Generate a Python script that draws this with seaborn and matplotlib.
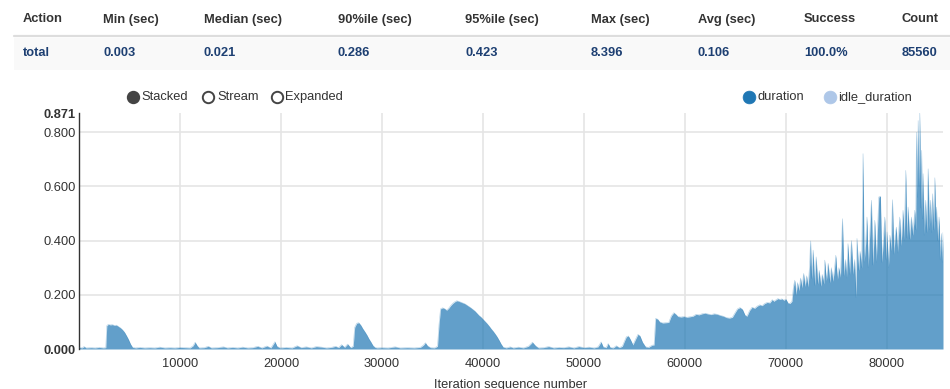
import matplotlib
matplotlib.use("Agg")
import matplotlib.pyplot as plt
from matplotlib.lines import Line2D
from matplotlib.patches import Rectangle
import seaborn as sns
import pandas as pd

# ---- summary table ----
columns = ["Action", "Min (sec)", "Median (sec)", "90%ile (sec)", "95%ile (sec)",
           "Max (sec)", "Avg (sec)", "Success", "Count"]
row_values = ["total", "0.003", "0.021", "0.286", "0.423", "8.396", "0.106",
              "100.0%", "85560"]

# ---- chart legend ----
series_names = ["duration", "idle_duration"]
series_colors = ["#1f77b4", "#aec7e8"]
view_modes = ["Stacked", "Stream", "Expanded"]

# ---- duration per iteration (seconds) ----
iterations = [
    1, 300, 500, 700, 1200, 1600, 2000, 2400, 2650,
    2750, 2900, 3100, 3300, 3500, 3700, 3900, 4100, 4300, 4500, 4700, 4900, 5100, 5300,
    5600, 6000, 6500, 7000, 7500, 8000, 8500, 9000, 9500, 10000, 10500, 11000, 11300,
    11500, 11700, 11900, 12400, 12800, 13100, 13700, 14300, 14700, 15200, 15700, 16200,
    16700, 17200, 17700, 18100, 18600, 19000, 19400, 19600, 19900, 20500, 21100, 21600,
    22000, 22500, 23000, 23500, 24000, 24500, 25000, 25400, 25700, 26000, 26300, 26600,
    26900,
    27150, 27300, 27500, 27700, 27900, 28100, 28300, 28500, 28700, 28900, 29100, 29300,
    29500,
    30000, 30600, 31300, 31800, 32500, 33200, 33800, 34100, 34300, 34500, 34800, 35200,
    35500, 35650, 35800, 36000, 36200, 36400, 36600, 36800, 37000, 37200, 37400, 37600,
    37800, 38000, 38200, 38400, 38600, 38800, 39000, 39200, 39400, 39600, 39800, 40000,
    40200, 40400, 40600, 40800, 41000, 41200, 41400, 41600, 41800, 42000,
    42300, 42700, 43000, 43500, 44000, 44500, 44900, 45200, 45500, 46000, 46500, 47000,
    47500, 48000, 48500, 49000, 49500, 50000, 50500, 51000, 51400, 51700, 51900, 52200,
    52400, 52600, 52900, 53200, 53500, 53800, 54000, 54200, 54400, 54600, 54850, 55100,
    55350, 55550, 55800, 56100, 56400, 56750, 56950,
    57100, 57300, 57500, 57800, 58100, 58400, 58650, 58900, 59100, 59300, 59600, 59900,
    60200, 60500, 60800, 61100, 61400, 61700, 62000, 62300, 62600, 62900, 63200, 63500,
    63800, 64100, 64400, 64700, 64950, 65200, 65450, 65700, 65950, 66150, 66400, 66650,
    66900, 67150, 67400, 67650, 67900, 68150, 68400, 68650, 68800, 69000, 69200, 69400,
    69600, 69800, 70000, 70200, 70400,
    70600, 70750, 70880, 71000, 71150, 71300, 71450, 71600, 71750, 71900, 72050, 72200,
    72350, 72440, 72550, 72700, 72850, 73000, 73150, 73300, 73450, 73600, 73750, 73850,
    74000, 74190, 74350, 74500, 74650, 74800, 74940, 75100, 75250, 75400, 75600, 75750,
    75900, 76000, 76150, 76300, 76490, 76650, 76800, 76950, 77040, 77200, 77350, 77500,
    77640, 77750, 77900, 78030, 78150, 78300, 78470, 78600, 78800, 78950, 79050, 79200,
    79360, 79500, 79650, 79790, 79900, 80020, 80150, 80300, 80420, 80550, 80700, 80820,
    80940, 81050, 81150, 81270, 81400, 81500, 81600, 81720, 81870, 81980, 82100, 82250,
    82430, 82550, 82680, 82760, 82850, 82930, 83020, 83100, 83180, 83260, 83350, 83430,
    83510, 83590, 83700, 83830, 83950, 84090, 84200, 84320, 84420, 84520, 84630, 84750,
    84830, 84910, 85020, 85170, 85280, 85400, 85480, 85560,
]
duration = [
    0.006, 0.004, 0.009, 0.004, 0.005, 0.004, 0.006, 0.004, 0.005,
    0.086, 0.091, 0.089, 0.090, 0.087, 0.088, 0.083, 0.078, 0.071, 0.062, 0.049, 0.035, 0.018, 0.006,
    0.004, 0.006, 0.004, 0.005, 0.004, 0.007, 0.004, 0.005, 0.004, 0.006, 0.005, 0.004, 0.012,
    0.025, 0.012, 0.004, 0.005, 0.010, 0.004, 0.005, 0.008, 0.004, 0.006, 0.004, 0.007,
    0.004, 0.005, 0.010, 0.004, 0.011, 0.004, 0.027, 0.010, 0.004, 0.006, 0.004, 0.012,
    0.005, 0.008, 0.004, 0.009, 0.007, 0.004, 0.006, 0.010, 0.005, 0.016, 0.006, 0.018,
    0.005,
    0.010, 0.080, 0.095, 0.097, 0.088, 0.075, 0.064, 0.052, 0.038, 0.026, 0.013, 0.006,
    0.004,
    0.005, 0.004, 0.008, 0.004, 0.005, 0.004, 0.006, 0.014, 0.023, 0.012, 0.005, 0.004,
    0.010, 0.090, 0.148, 0.152, 0.149, 0.143, 0.150, 0.160, 0.168, 0.174, 0.178, 0.176,
    0.173, 0.170, 0.167, 0.162, 0.157, 0.152, 0.146, 0.140, 0.132, 0.124, 0.118, 0.110,
    0.102, 0.094, 0.085, 0.075, 0.066, 0.056, 0.045, 0.032, 0.018, 0.007,
    0.004, 0.008, 0.004, 0.007, 0.004, 0.010, 0.025, 0.012, 0.004, 0.005, 0.009, 0.004,
    0.006, 0.005, 0.008, 0.004, 0.009, 0.005, 0.007, 0.004, 0.008, 0.026, 0.008, 0.005,
    0.020, 0.006, 0.004, 0.012, 0.005, 0.010, 0.028, 0.045, 0.048, 0.035, 0.015, 0.035,
    0.054, 0.048, 0.025, 0.008, 0.006, 0.014, 0.015,
    0.113, 0.110, 0.100, 0.096, 0.097, 0.098, 0.122, 0.134, 0.128, 0.120, 0.118, 0.120,
    0.117, 0.119, 0.121, 0.128, 0.126, 0.130, 0.132, 0.129, 0.127, 0.130, 0.128, 0.124,
    0.121, 0.116, 0.114, 0.117, 0.133, 0.148, 0.153, 0.146, 0.125, 0.121, 0.142, 0.154,
    0.150, 0.158, 0.163, 0.160, 0.168, 0.172, 0.170, 0.182, 0.176, 0.181, 0.186, 0.183,
    0.185, 0.180, 0.184, 0.170, 0.168,
    0.176, 0.230, 0.254, 0.200, 0.245, 0.215, 0.262, 0.225, 0.279, 0.230, 0.270, 0.228,
    0.310, 0.399, 0.260, 0.365, 0.235, 0.340, 0.240, 0.290, 0.232, 0.275, 0.240, 0.328,
    0.250, 0.316, 0.245, 0.300, 0.250, 0.290, 0.346, 0.255, 0.300, 0.262, 0.481, 0.270,
    0.330, 0.262, 0.389, 0.275, 0.400, 0.275, 0.330, 0.190, 0.408, 0.290, 0.360, 0.300,
    0.721, 0.320, 0.390, 0.487, 0.300, 0.420, 0.549, 0.310, 0.475, 0.320, 0.420, 0.561,
    0.564, 0.320, 0.400, 0.487, 0.330, 0.432, 0.300, 0.420, 0.360, 0.551, 0.350, 0.420,
    0.450, 0.355, 0.420, 0.487, 0.380, 0.440, 0.512, 0.400, 0.659, 0.410, 0.524, 0.405,
    0.487, 0.420, 0.470, 0.512, 0.440, 0.800, 0.560, 0.843, 0.600, 0.871, 0.520, 0.733,
    0.480, 0.647, 0.420, 0.549, 0.430, 0.665, 0.440, 0.549, 0.430, 0.573, 0.440, 0.632,
    0.470, 0.524, 0.400, 0.487, 0.330, 0.426, 0.320, 0.430,
]

y_ticks = [0.0, 0.2, 0.4, 0.6, 0.8]
x_ticks = [10000, 20000, 30000, 40000, 50000, 60000, 70000, 80000]
x_label = "Iteration sequence number"

df = pd.DataFrame({"iteration": iterations, "duration": duration})
y_top = max(duration)
x_end = max(iterations)

# ---- figure in pixel units ----
W, H = 950, 389
sns.set_theme(style="white")
plt.rcParams["font.family"] = ["Liberation Sans", "DejaVu Sans"]
fig = plt.figure(figsize=(W / 100, H / 100), dpi=100)
fig.patch.set_facecolor("white")


def fx(px):
    return px / W


def fy(py):
    return 1 - py / H


FS = 9.3
TEXT_DARK = "#333333"
ROW_BLUE = "#1d3f72"

# table header, separator, and shaded data row
col_x = [23, 103, 204, 338, 465, 591, 698, 804, 902]
for x, label in zip(col_x, columns):
    fig.text(fx(x), fy(19.5), label, fontsize=FS, fontweight="bold",
             color=TEXT_DARK, ha="left", va="center")
fig.add_artist(Rectangle((fx(14), fy(70)), fx(950) - fx(14), fy(37.5) - fy(70),
                         transform=fig.transFigure, facecolor="#f9f9f9",
                         edgecolor="none", zorder=0))
fig.add_artist(Line2D([fx(14), fx(950)], [fy(36.3), fy(36.3)],
                      transform=fig.transFigure, color="#dddddd", linewidth=1.6))
for x, value in zip(col_x, row_values):
    fig.text(fx(x), fy(53.5), value, fontsize=FS, fontweight="bold",
             color=ROW_BLUE, ha="left", va="center")

# view-mode controls
mode_x = [132.5, 208, 276.5]
for i, (x, name) in enumerate(zip(mode_x, view_modes)):
    filled = i == 0
    fig.add_artist(Line2D([fx(x)], [fy(97)], transform=fig.transFigure,
                          marker="o", markersize=8.2,
                          markerfacecolor="#444444" if filled else "white",
                          markeredgecolor="#444444", markeredgewidth=1.4,
                          linestyle="none"))
    fig.text(fx(x + 9), fy(97), name, fontsize=FS, color=TEXT_DARK,
             ha="left", va="center")

# series legend
legend_x = [748.5, 830]
for x, name, color in zip(legend_x, series_names, series_colors):
    fig.add_artist(Line2D([fx(x)], [fy(97)], transform=fig.transFigure,
                          marker="o", markersize=9.2, markerfacecolor=color,
                          markeredgecolor=color, markeredgewidth=0.5,
                          linestyle="none"))
    fig.text(fx(x + 8.5), fy(97), name, fontsize=FS, color=TEXT_DARK,
             ha="left", va="center")

# ---- area chart ----
ax = fig.add_axes([fx(79), fy(349), fx(943) - fx(79), fy(113) - fy(349)])
ax.set_facecolor("white")

grid_color = "#e5e5e5"
for xt in x_ticks:
    ax.axvline(xt, color=grid_color, linewidth=1.2, zorder=0)
for yt in y_ticks[1:]:
    ax.axhline(yt, color=grid_color, linewidth=1.2, zorder=0)

ax.fill_between(df["iteration"], df["duration"], 0, color=series_colors[0],
                alpha=0.7, linewidth=0, zorder=2)
sns.lineplot(data=df, x="iteration", y="duration", ax=ax, color=series_colors[0],
             alpha=0.35, linewidth=0.4, zorder=3, legend=False)

ax.set_xlim(0, x_end)
ax.set_ylim(0, y_top)

ax.set_xticks(x_ticks)
ax.set_xticklabels([str(t) for t in x_ticks])
ticks_y = y_ticks + [y_top]
ax.set_yticks(ticks_y)
ax.set_yticklabels([f"{t:.3f}" for t in ticks_y])
for lab, t in zip(ax.get_yticklabels(), ticks_y):
    if t == 0.0 or t == y_top:
        lab.set_fontweight("bold")
        lab.set_color("#111111")

ax.tick_params(axis="both", length=0, labelsize=FS, colors=TEXT_DARK)
ax.tick_params(axis="x", pad=6.5)
ax.tick_params(axis="y", pad=2.5)

ax.set_xlabel(x_label, fontsize=FS, color=TEXT_DARK, labelpad=6.3)
ax.set_ylabel("")

for side in ["top", "right", "bottom"]:
    ax.spines[side].set_visible(False)
ax.spines["left"].set_color("#333333")
ax.spines["left"].set_linewidth(1.0)

fig.savefig("out.png", dpi=100, facecolor="white")
